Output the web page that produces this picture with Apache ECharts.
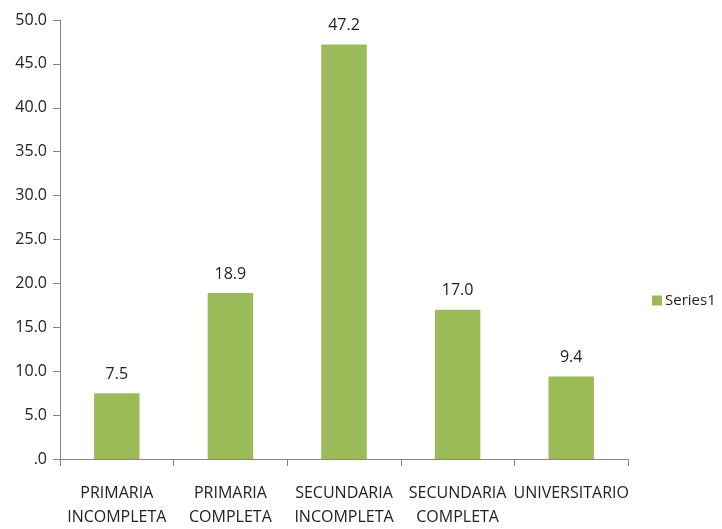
<!DOCTYPE html>
<html>
<head>
<meta charset="utf-8">
<script src="https://cdn.jsdelivr.net/npm/echarts@6/dist/echarts.min.js"></script>
<style>
  html, body { margin: 0; padding: 0; background: #fff; }
  #chart { width: 722px; height: 529px; }
</style>
</head>
<body>
<div id="chart"></div>
<script>
const categories = ['PRIMARIA\nINCOMPLETA', 'PRIMARIA\nCOMPLETA', 'SECUNDARIA\nINCOMPLETA', 'SECUNDARIA\nCOMPLETA', 'UNIVERSITARIO'];
const series1 = [7.5, 18.9, 47.2, 17.0, 9.4];

const fontFamily = '"Open Sans", sans-serif';
const fmt = v => (v === 0 ? '.0' : Number(v).toFixed(1));

const chart = echarts.init(document.getElementById('chart'));
chart.setOption({
  animation: false,
  textStyle: { fontFamily: fontFamily },
  grid: { left: 60, right: 94, top: 20, bottom: 68 },
  legend: {
    data: [{ name: 'Series1', icon: 'rect' }],
    orient: 'vertical',
    left: 652,
    top: 293,
    padding: 0,
    itemWidth: 10,
    itemHeight: 10,
    textStyle: { fontSize: 15, color: '#222', fontFamily: fontFamily, padding: [0, 0, 0, -2] }
  },
  xAxis: {
    type: 'category',
    data: categories,
    axisLine: { lineStyle: { color: '#868686' } },
    axisTick: { show: true, length: 7, lineStyle: { color: '#868686' } },
    axisLabel: {
      interval: 0,
      margin: 22,
      fontSize: 16,
      lineHeight: 24,
      color: '#222',
      fontFamily: fontFamily
    }
  },
  yAxis: {
    type: 'value',
    min: 0,
    max: 50,
    interval: 5,
    splitLine: { show: false },
    axisLine: { show: true, lineStyle: { color: '#868686' } },
    axisTick: { show: true, length: 7, lineStyle: { color: '#868686' } },
    axisLabel: {
      margin: 13,
      fontSize: 16,
      color: '#222',
      fontFamily: fontFamily,
      formatter: fmt
    }
  },
  series: [{
    name: 'Series1',
    type: 'bar',
    data: series1,
    barWidth: '40%',
    itemStyle: { color: '#9BBB59' },
    label: {
      show: true,
      position: 'top',
      distance: 11,
      fontSize: 16,
      color: '#222',
      fontFamily: fontFamily,
      formatter: p => fmt(p.value)
    }
  }]
});
</script>
</body>
</html>
